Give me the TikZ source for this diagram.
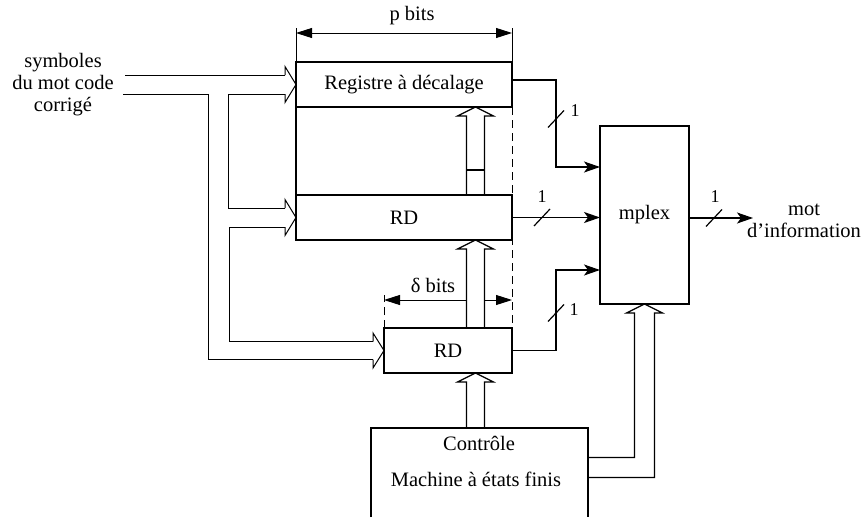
\documentclass[tikz,border=0pt]{standalone}
\usepackage{fontspec}
\setmainfont{Liberation Serif}
\usetikzlibrary{arrows.meta,calc}
\newcommand\hheadR[2]{%
  \draw ($(#1)+(-11,-#2)$) -- ($(#1)+(-11,{-#2-8.5})$) -- (#1) -- ($(#1)+(-11,{#2+8.5})$) -- ($(#1)+(-11,#2)$);}
\newcommand\vbusU[2]{%
  \filldraw[fill=white] ($(#1)+(-9,#2)$) -- ($(#1)+(-9,9)$) -- ($(#1)+(-18,9)$) -- (#1) -- ($(#1)+(18,9)$) -- ($(#1)+(9,9)$) -- ($(#1)+(9,#2)$);}
\newcommand\slashmark[1]{%
  \draw ($(#1)+(-8,8.5)$) -- ($(#1)+(8,-8.5)$);}
\begin{document}
\begin{tikzpicture}[x=1pt,y=-1pt,line width=1.2pt,
  box/.style={rectangle,inner sep=0pt,outer sep=0pt},
  txt/.style={font=\fontsize{20.5}{22}\selectfont,inner sep=0pt},
  small/.style={font=\fontsize{18}{20}\selectfont,inner sep=0pt},
  sig/.style={-{Stealth[length=16pt,width=11pt,inset=4pt]}},
  dim/.style={{Triangle[length=16pt,width=10pt]}-{Triangle[length=16pt,width=10pt]},line width=0.9pt},
  dashedline/.style={dash pattern=on 8pt off 5pt,line width=0.9pt}]
\useasboundingbox (0,0) rectangle (862,517);

% nodes
\node[box,txt,minimum width=216pt,minimum height=45pt] (reg) at (404,84.5) {Registre à décalage};
\node[box,txt,minimum width=216pt,minimum height=45pt] (rd1) at (404,217.5) {RD};
\node[box,txt,minimum width=128pt,minimum height=45pt] (rd2) at (448,350.5) {RD};
\node[box,txt,minimum width=89pt,minimum height=178pt] (mx) at (644.5,215) {mplex};
\node[box,minimum width=217pt,minimum height=89pt] (ctrl) at (479.5,472.5) {};
\node[txt] (ctrl1) at (479,443) {Contrôle};
\node[txt] (ctrl2) at (476,479) {Machine à états finis};
\node[txt,align=center] (inp) at (63,85) {symboles\\du mot code\\corrigé};
\node[txt,align=center] (outl) at (804,221) {mot\\d\symbol{"27}information};
\node[txt] (pb) at (412,16) {p bits};
\node[txt] (db) at (433,285) {δ bits};
\node[small] (n1) at (575,111) {1};
\node[small] (n2) at (542,197) {1};
\node[small] (n3) at (574,310) {1};
\node[small] (n4) at (715,197) {1};

% dimension lines and dashed guides
\draw[dashedline] (reg.south east) -- (rd2.north east);
\draw[dashedline] (rd2.north west) -- ++(0,-33);
\draw[dim] ($(rd2.north west)+(0,-28)$) -- ($(rd2.north east)+(0,-28)$);
\draw[line width=0.9pt] (reg.north west) -- ++(0,-34);
\draw[line width=0.9pt] (reg.north east) -- ++(0,-34);
\draw[dim] ($(reg.north west)+(0,-29)$) -- ($(reg.north east)+(0,-29)$);
\draw (reg.south west) -- (rd1.north west);

% input bus
\begin{scope}[line width=1pt]
\coordinate (inT) at (125,75);
\coordinate (inB) at (123,94.5);
\draw (inT) -- ($(reg.west)+(-11,-9.5)$);
\draw (inB) -- ++(85,0) |- ($(rd2.west)+(-11,9)$);
\draw ($(reg.west)+(-11,9.5)$) -- ++(-57,0) |- ($(rd1.west)+(-11,-9.5)$);
\draw ($(rd1.west)+(-11,9.5)$) -- ++(-56,0) |- ($(rd2.west)+(-11,-9)$);
\hheadR{reg.west}{9.5}
\hheadR{rd1.west}{9.5}
\hheadR{rd2.west}{9}
\end{scope}

% vertical hollow buses
\coordinate (t1) at ($(reg.south)+(71.5,0)$);
\coordinate (t2) at ($(rd1.south)+(71.5,0)$);
\coordinate (t3) at ($(rd2.south)+(27.5,0)$);
\vbusU{t1}{88}
\draw ($(t1)+(-9,63)$) -- ++(18,0);
\vbusU{t2}{88}
\vbusU{t3}{55}
\filldraw[fill=white] ($(ctrl.east)+(0,5)$) -| ($(mx.south)+(10,9)$) -- ++(8,0) -- (mx.south) -- ++(-18,9) -- ++(8,0) |- ($(ctrl.east)+(0,-15)$);

% signals to and from mplex
\draw[sig] ($(reg.east)+(0,-4.5)$) -- ++(44,0) |- ($(mx.west)+(0,-48)$);
\draw[sig] (rd1.east) -- (rd1.east -| mx.west);
\draw[sig] (rd2.east) -- ++(44,0) |- ($(mx.west)+(0,55)$);
\coordinate (outE) at ($(mx.east)+(64,3)$);
\draw[sig] ($(mx.east)+(0,3)$) -- (outE);
\slashmark{$(reg.east)+(44,34.5)$}
\slashmark{$(rd1.east)+(30,0)$}
\slashmark{$(rd2.east)+(44,-37.5)$}
\slashmark{$(mx.east)+(25,3)$}

% box outlines
\draw (reg.south west) rectangle (reg.north east);
\draw (rd1.south west) rectangle (rd1.north east);
\draw (rd2.south west) rectangle (rd2.north east);
\draw (mx.south west) rectangle (mx.north east);
\draw (ctrl.south west) -- (ctrl.north west) -- (ctrl.north east) -- (ctrl.south east);
\end{tikzpicture}
\end{document}
